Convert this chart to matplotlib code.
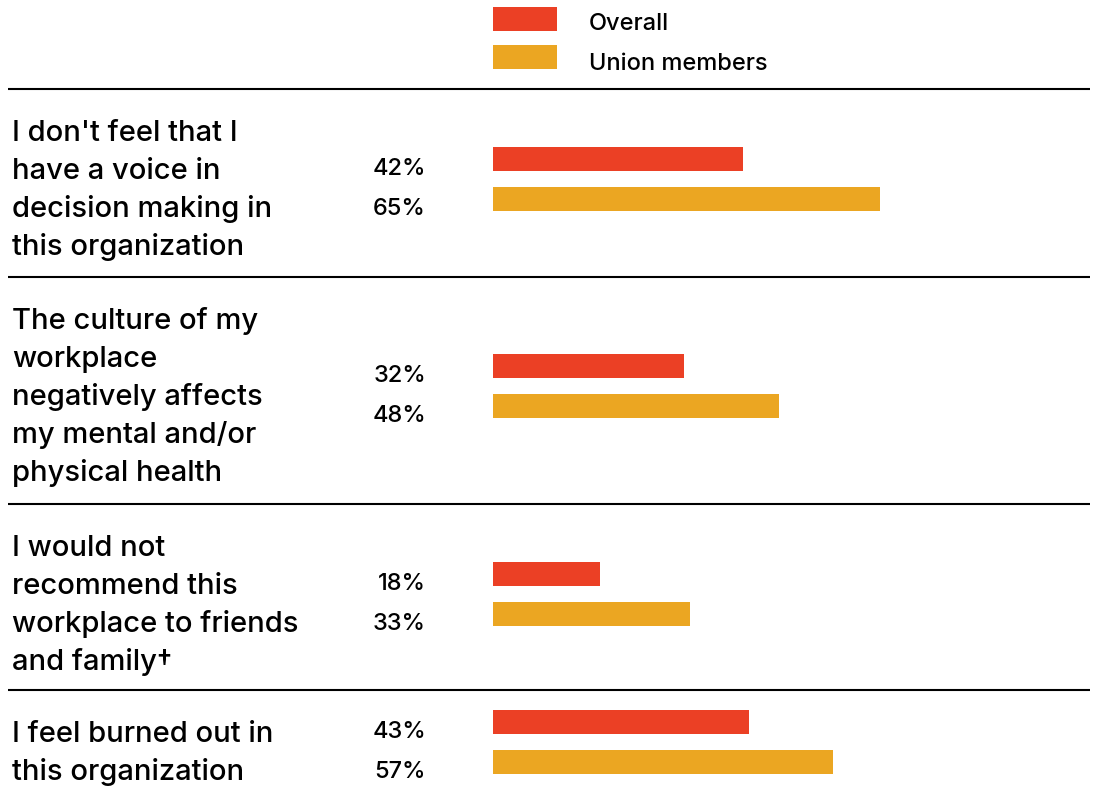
import matplotlib
matplotlib.use("Agg")
import matplotlib.pyplot as plt
from matplotlib.transforms import blended_transform_factory

# survey data
statements = [
    "I don't feel that I\nhave a voice in\ndecision making in\nthis organization",
    "The culture of my\nworkplace\nnegatively affects\nmy mental and/or\nphysical health",
    "I would not\nrecommend this\nworkplace to friends\nand family\u2020",
    "I feel burned out in\nthis organization",
]
overall = [42, 32, 18, 43]
union_members = [65, 48, 33, 57]
series_names = ["Overall", "Union members"]
colors = ["#EB4025", "#EBA622"]

# layout, in pixels
W, H = 1097, 799
bar_left_px = 493
px_per_pct = 5.96
line_step = 38
bar_h = 24
separators = [89, 277, 504, 690]

plt.rcParams["font.family"] = ["Inter", "DejaVu Sans"]
plt.rcParams["font.weight"] = 500

fig = plt.figure(figsize=(W / 100, H / 100), dpi=100)
ax = fig.add_axes([0, 0, 1, 1])
ax.set_xlim(-bar_left_px / px_per_pct, (W - bar_left_px) / px_per_pct)
ax.set_ylim(H, 0)
ax.axis("off")
blend = blended_transform_factory(ax.transAxes, ax.transData)


def fx(px):
    return px / W


# legend
for i, (name, c) in enumerate(zip(series_names, colors)):
    yc = 19 + i * 38
    ax.barh(yc, 64 / px_per_pct, height=bar_h, left=0, color=c)
    ax.text(fx(589), 30.5 + i * 39.5, name, transform=blend,
            fontsize=17, va="baseline", ha="left")

for sep in separators:
    ax.plot([fx(8), fx(1090)], [sep, sep], transform=blend, color="black", lw=1.5,
            solid_capstyle="butt")

for k, text in enumerate(statements):
    n = text.count("\n") + 1
    first = separators[k] + 52
    mid = separators[k] + 41 + (n - 1) * line_step / 2
    for j, line in enumerate(text.split("\n")):
        ax.text(fx(12), first + j * line_step, line, transform=blend,
                fontsize=21, va="baseline", ha="left")
    for j, vals in enumerate([overall, union_members]):
        yc = mid - 8 + (j - 0.5) * 40
        ax.barh(yc, vals[k], height=bar_h, left=0, color=colors[j])
        ax.text(fx(426), yc + 16, f"{vals[k]}%", transform=blend,
                fontsize=17, va="baseline", ha="right")

fig.savefig("out.png", dpi=100)
